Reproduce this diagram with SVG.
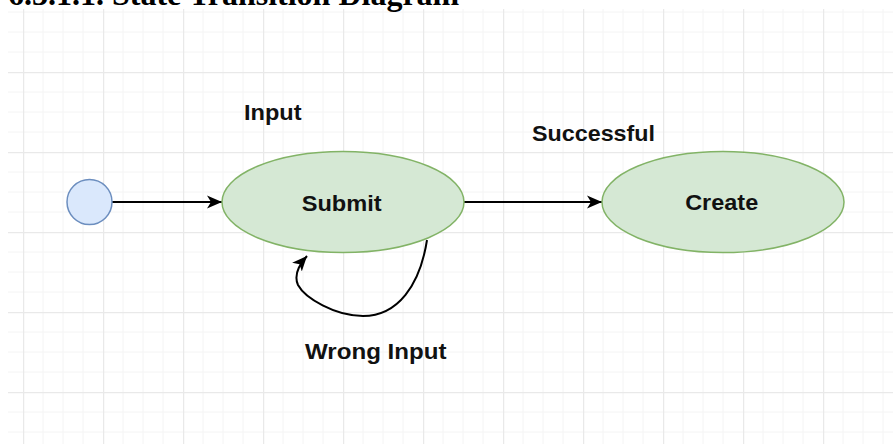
<svg xmlns="http://www.w3.org/2000/svg" width="893" height="444" viewBox="0 0 893 444">
  <style>
    .lbl { font-family: "Liberation Sans", Arial, sans-serif; font-weight: bold; font-size: 21.5px; fill: #111; }
    .state { fill: #d5e8d4; stroke: #82b366; stroke-width: 1.5; }
    .start { fill: #dae8fc; stroke: #6c8ebf; stroke-width: 1.5; }
    .edge { fill: none; stroke: #000; stroke-width: 2; }
    .title { font-family: "Liberation Serif", "Times New Roman", serif; font-weight: bold; font-size: 32px; fill: #000; }
  </style>
  <defs>
    <pattern id="grid" patternUnits="userSpaceOnUse" x="23" y="72" width="80" height="80">
      <path d="M20,0 V80 M40,0 V80 M60,0 V80 M0,20 H80 M0,40 H80 M0,60 H80" stroke="#f4f4f4" stroke-width="1" fill="none"/>
      <path d="M0.5,0 V80 M0,0.5 H80" stroke="#e9e9e9" stroke-width="1.5" fill="none"/>
    </pattern>
    <marker id="arrow" markerUnits="userSpaceOnUse" markerWidth="16" markerHeight="14" refX="15" refY="7" orient="auto">
      <path d="M0,0.5 L15,7 L0,13.5 L4,7 Z" fill="#000"/>
    </marker>
  </defs>
  <rect x="0" y="0" width="893" height="444" fill="#fff"/>
  <rect x="8" y="9" width="885" height="435" fill="url(#grid)"/>
  <text class="title" x="8" y="5">6.3.1.1. State Transition Diagram</text>

  <g id="connectors">
    <line class="edge" x1="112" y1="202" x2="222" y2="202" marker-end="url(#arrow)"/>
    <line class="edge" x1="464" y1="202" x2="602" y2="202" marker-end="url(#arrow)"/>
    <path class="edge" d="M427,240 C420,285 398,316 363,316 C335,316 305,298 298,285 C294,276 298,266 307,256" marker-end="url(#arrow)"/>
  </g>

  <g id="start">
    <circle class="start" cx="89.5" cy="202" r="22.5"/>
  </g>
  <g id="submit">
    <ellipse class="state" cx="343" cy="202" rx="121" ry="50.5"/>
    <text class="lbl" x="341.7" y="211" text-anchor="middle" textLength="80" lengthAdjust="spacingAndGlyphs">Submit</text>
  </g>
  <g id="create">
    <ellipse class="state" cx="723" cy="202" rx="121" ry="50.5"/>
    <text class="lbl" x="721.7" y="210" text-anchor="middle" textLength="73" lengthAdjust="spacingAndGlyphs">Create</text>
  </g>
  <g id="labels">
    <text class="lbl" x="244" y="120" textLength="57.5" lengthAdjust="spacingAndGlyphs">Input</text>
    <text class="lbl" x="532" y="140.5" textLength="123" lengthAdjust="spacingAndGlyphs">Successful</text>
    <text class="lbl" x="305" y="358.5" textLength="141.5" lengthAdjust="spacingAndGlyphs">Wrong Input</text>
  </g>
</svg>
